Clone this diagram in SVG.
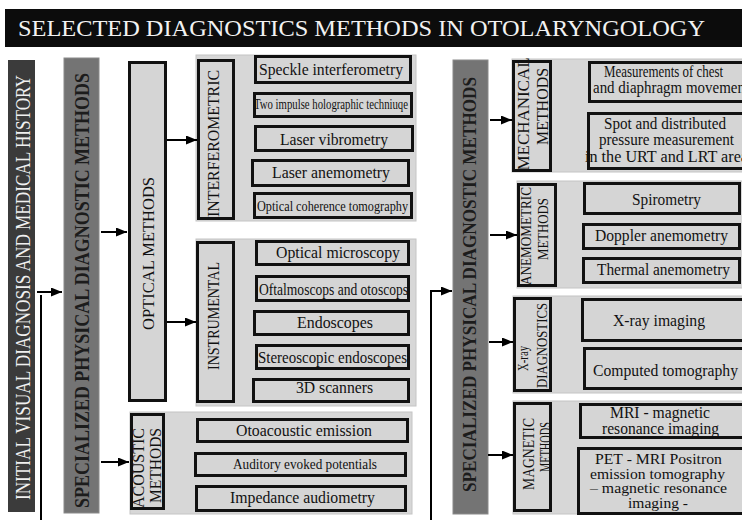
<svg xmlns="http://www.w3.org/2000/svg" width="742" height="520" viewBox="0 0 742 520">
<style>
.t{font-family:"Liberation Serif","Times New Roman",serif;fill:#111;font-size:16px}
.panel{fill:#d7d7d7;stroke:#c4c4c4;stroke-width:1}
.box{fill:#d5d5d5;stroke:#111;stroke-width:3}
.lab{fill:#d5d5d5;stroke:#111;stroke-width:3}
.c{text-anchor:middle}
.s{font-size:14px}
.con{stroke:#000;stroke-width:2;fill:none}
</style>
<defs>
<marker id="ah" markerUnits="userSpaceOnUse" markerWidth="11" markerHeight="9" refX="11" refY="4.5" orient="auto">
<path d="M0,0 L11,4.5 L0,9 z" fill="#000"/>
</marker>
</defs>
<rect width="742" height="520" fill="#fff"/>

<g id="title">
<rect x="5" y="9" width="737" height="38" fill="#0c0c0c"/>
<text x="18" y="36" class="t" style="fill:#f2f2f2;font-size:23px" textLength="687" lengthAdjust="spacingAndGlyphs">SELECTED DIAGNOSTICS  METHODS IN OTOLARYNGOLOGY</text>
</g>

<g id="initial">
<rect x="8" y="60" width="27" height="452" fill="#3b3b3b"/>
<text class="t c" transform="translate(23,287.5) rotate(-90)" y="7" style="fill:#f0f0f0;font-size:21px" textLength="425" lengthAdjust="spacingAndGlyphs">INITIAL VISUAL DIAGNOSIS AND MEDICAL HISTORY</text>
</g>

<g id="specialized-left">
<rect x="64" y="58" width="35" height="455" fill="#747474" stroke="#8a8a8a" stroke-width="1"/>
<text class="t c" transform="translate(82.5,290.5) rotate(-90)" y="6.5" style="fill:#1c1c1c;font-size:20px;font-weight:bold" textLength="435" lengthAdjust="spacingAndGlyphs">SPECIALIZED PHYSICAL DIAGNOSTIC METHODS</text>
</g>

<g id="optical">
<rect class="lab" x="129.5" y="62.5" width="36" height="338"/>
<text class="t c" transform="translate(148,253.5) rotate(-90)" y="5.5" textLength="153" lengthAdjust="spacingAndGlyphs">OPTICAL   METHODS</text>
</g>

<g id="interferometric">
<rect class="panel" x="196" y="55" width="220" height="166"/>
<rect class="lab" x="198.5" y="60.5" width="35" height="158"/>
<text class="t c" transform="translate(213,143.5) rotate(-90)" y="5.5" style="font-size:16.5px" textLength="147" lengthAdjust="spacingAndGlyphs">INTERFEROMETRIC</text>
</g>
<g id="speckle"><rect class="box" x="255.5" y="56.5" width="155" height="26"/><text class="t c" x="331" y="75" textLength="144" lengthAdjust="spacingAndGlyphs">Speckle interferometry</text></g>
<g id="twoimpulse"><rect class="box" x="254.5" y="93.5" width="157" height="23"/><text class="t c" x="331" y="109" style="font-size:14px" textLength="154" lengthAdjust="spacingAndGlyphs">Two  impulse holographic  techniuqe</text></g>
<g id="vibrometry"><rect class="box" x="255.5" y="126.5" width="157" height="24"/><text class="t c" x="334" y="145" textLength="108" lengthAdjust="spacingAndGlyphs">Laser vibrometry</text></g>
<g id="laseranem"><rect class="box" x="252.5" y="160.5" width="156" height="25"/><text class="t c" x="331" y="178" textLength="118" lengthAdjust="spacingAndGlyphs">Laser anemometry</text></g>
<g id="oct"><rect class="box" x="254.5" y="193.5" width="157" height="24"/><text class="t c" x="332.5" y="211" style="font-size:15px" textLength="151" lengthAdjust="spacingAndGlyphs">Optical coherence tomography</text></g>

<g id="instrumental">
<rect class="panel" x="196" y="239" width="220" height="167"/>
<rect class="lab" x="197.5" y="242.5" width="36" height="159"/>
<text class="t c" transform="translate(213,316) rotate(-90)" y="5.5" textLength="108" lengthAdjust="spacingAndGlyphs">INSTRUMENTAL</text>
</g>
<g id="microscopy"><rect class="box" x="256.5" y="241.5" width="152" height="23"/><text class="t c" x="338" y="258" textLength="124" lengthAdjust="spacingAndGlyphs">Optical microscopy</text></g>
<g id="oftalmo"><rect class="box" x="256.5" y="276.5" width="152" height="24"/><text class="t c" x="333.5" y="295" textLength="149" lengthAdjust="spacingAndGlyphs">Oftalmoscops and otoscops</text></g>
<g id="endoscopes"><rect class="box" x="254.5" y="311.5" width="154" height="23"/><text class="t c" x="335" y="328" textLength="76" lengthAdjust="spacingAndGlyphs">Endoscopes</text></g>
<g id="stereo"><rect class="box" x="256.5" y="345.5" width="152" height="23"/><text class="t c" x="332.5" y="363" textLength="149" lengthAdjust="spacingAndGlyphs">Stereoscopic endoscopes</text></g>
<g id="scanners"><rect class="box" x="253.5" y="379.5" width="155" height="22"/><text class="t c" x="334.5" y="393" textLength="77" lengthAdjust="spacingAndGlyphs">3D scanners</text></g>

<g id="acoustic">
<rect class="panel" x="130" y="412" width="282" height="102"/>
<rect class="lab" x="131.5" y="414.5" width="32" height="94"/>
<text class="t c" transform="translate(138.5,468) rotate(-90)" y="5.5" style="font-size:17px" textLength="80" lengthAdjust="spacingAndGlyphs">ACOUSTIC</text>
<text class="t c" transform="translate(155,465.5) rotate(-90)" y="5.5" style="font-size:17px" textLength="75" lengthAdjust="spacingAndGlyphs">METHODS</text>
</g>
<g id="otoacoustic"><rect class="box" x="197.5" y="419.5" width="210" height="22"/><text class="t c" x="304" y="436" textLength="136" lengthAdjust="spacingAndGlyphs">Otoacoustic emission</text></g>
<g id="auditory"><rect class="box" x="195.5" y="453.5" width="210" height="22"/><text class="t c" x="305" y="469" style="font-size:15px" textLength="144" lengthAdjust="spacingAndGlyphs">Auditory evoked potentials</text></g>
<g id="impedance"><rect class="box" x="196.5" y="486.5" width="209" height="24"/><text class="t c" x="302.5" y="503" textLength="145" lengthAdjust="spacingAndGlyphs">Impedance audiometry</text></g>

<g id="specialized-right">
<rect x="453" y="60" width="35" height="454" fill="#747474" stroke="#8a8a8a" stroke-width="1"/>
<text class="t c" transform="translate(469.5,284.5) rotate(-90)" y="6.5" style="fill:#1c1c1c;font-size:19px;font-weight:bold" textLength="415" lengthAdjust="spacingAndGlyphs">SPECIALIZED PHYSICAL DIAGNOSTIC METHODS</text>
</g>

<g id="mechanical">
<rect class="panel" x="512" y="59" width="232" height="113"/>
<rect class="lab" x="513.5" y="61.5" width="37" height="109"/>
<text class="t c" transform="translate(523,114) rotate(-90)" y="5.5" textLength="113" lengthAdjust="spacingAndGlyphs">MECHANICAL</text>
<text class="t c" transform="translate(542,106.5) rotate(-90)" y="5.5" textLength="77" lengthAdjust="spacingAndGlyphs">METHODS</text>
</g>
<g id="chest"><rect class="box" x="589.5" y="62.5" width="165" height="39"/>
<text class="t" x="604" y="77" textLength="119" lengthAdjust="spacingAndGlyphs">Measurements of chest</text>
<text class="t" x="593" y="93" textLength="156" lengthAdjust="spacingAndGlyphs">and diaphragm movement</text></g>
<g id="pressure"><rect class="box" x="588.5" y="113.5" width="165" height="55"/>
<text class="t" x="604" y="129" textLength="122" lengthAdjust="spacingAndGlyphs">Spot and distributed</text>
<text class="t" x="599" y="145" textLength="135" lengthAdjust="spacingAndGlyphs">pressure measurement</text>
<text class="t" x="585" y="162" textLength="163" lengthAdjust="spacingAndGlyphs">in the URT and LRT area</text></g>

<g id="anemometric">
<rect class="panel" x="517" y="181" width="227" height="107"/>
<rect class="lab" x="518.5" y="184.5" width="37" height="101"/>
<text class="t c" transform="translate(525.5,236) rotate(-90)" y="5" style="font-size:15px" textLength="98" lengthAdjust="spacingAndGlyphs">ANEMOMETRIC</text>
<text class="t c" transform="translate(543,229) rotate(-90)" y="5" style="font-size:15px" textLength="62" lengthAdjust="spacingAndGlyphs">METHODS</text>
</g>
<g id="spirometry"><rect class="box" x="584.5" y="183.5" width="155" height="30"/><text class="t c" x="666.5" y="205" textLength="69" lengthAdjust="spacingAndGlyphs">Spirometry</text></g>
<g id="doppler"><rect class="box" x="583.5" y="224.5" width="156" height="24"/><text class="t" x="595" y="241" textLength="133" lengthAdjust="spacingAndGlyphs">Doppler anemometry</text></g>
<g id="thermal"><rect class="box" x="583.5" y="258.5" width="156" height="24"/><text class="t" x="597" y="275" textLength="133" lengthAdjust="spacingAndGlyphs">Thermal anemometry</text></g>

<g id="xray">
<rect class="panel" x="513" y="296" width="231" height="97"/>
<rect class="lab" x="514.5" y="298.5" width="36" height="92"/>
<text class="t c" transform="translate(522.5,358.5) rotate(-90)" y="5" style="font-size:15px" textLength="25" lengthAdjust="spacingAndGlyphs">X-ray</text>
<text class="t c" transform="translate(542,345.5) rotate(-90)" y="5" style="font-size:15px" textLength="85" lengthAdjust="spacingAndGlyphs">DIAGNOSTICS</text>
</g>
<g id="ximaging"><rect class="box" x="582.5" y="299.5" width="170" height="41"/><text class="t" x="613" y="326" textLength="92" lengthAdjust="spacingAndGlyphs">X-ray imaging</text></g>
<g id="ct"><rect class="box" x="584.5" y="348.5" width="170" height="40"/><text class="t" x="593" y="376" textLength="145" lengthAdjust="spacingAndGlyphs">Computed tomography</text></g>

<g id="magnetic">
<rect class="panel" x="513" y="401" width="231" height="113"/>
<rect class="lab" x="514.5" y="403.5" width="36" height="107"/>
<text class="t c" transform="translate(528,454) rotate(-90)" y="5.5" textLength="72" lengthAdjust="spacingAndGlyphs">MAGNETIC</text>
<text class="t c" transform="translate(545,447) rotate(-90)" y="5.5" textLength="50" lengthAdjust="spacingAndGlyphs">METHODS</text>
</g>
<g id="mri"><rect class="box" x="580.5" y="404.5" width="170" height="33"/>
<text class="t" x="610" y="418" textLength="100" lengthAdjust="spacingAndGlyphs">MRI - magnetic</text>
<text class="t" x="602" y="434" textLength="117" lengthAdjust="spacingAndGlyphs">resonance imaging</text></g>
<g id="pet"><rect class="box" x="578.5" y="448.5" width="170" height="65"/>
<text class="t s" x="595" y="464" textLength="127" lengthAdjust="spacingAndGlyphs">PET - MRI Positron</text>
<text class="t s" x="590" y="478.5" textLength="135" lengthAdjust="spacingAndGlyphs">emission tomography</text>
<text class="t s" x="590" y="493" textLength="137" lengthAdjust="spacingAndGlyphs">– magnetic resonance</text>
<text class="t s" x="628" y="508" textLength="60" lengthAdjust="spacingAndGlyphs">imaging -</text></g>

<g id="connectors">
<line class="con" x1="37" y1="292" x2="62" y2="292" marker-end="url(#ah)"/>
<line class="con" x1="41" y1="295" x2="41" y2="520"/>
<line class="con" x1="101" y1="232" x2="127" y2="232" marker-end="url(#ah)"/>
<line class="con" x1="101" y1="462" x2="129" y2="462" marker-end="url(#ah)"/>
<line class="con" x1="167" y1="140" x2="197" y2="140" marker-end="url(#ah)"/>
<line class="con" x1="167" y1="322" x2="196" y2="322" marker-end="url(#ah)"/>
<polyline class="con" points="431,520 431,291 452,291" marker-end="url(#ah)"/>
<line class="con" x1="490" y1="120" x2="512" y2="120" marker-end="url(#ah)"/>
<line class="con" x1="490" y1="235" x2="517" y2="235" marker-end="url(#ah)"/>
<line class="con" x1="489" y1="342" x2="513" y2="342" marker-end="url(#ah)"/>
<line class="con" x1="488" y1="455" x2="513" y2="455" marker-end="url(#ah)"/>
</g>
</svg>
